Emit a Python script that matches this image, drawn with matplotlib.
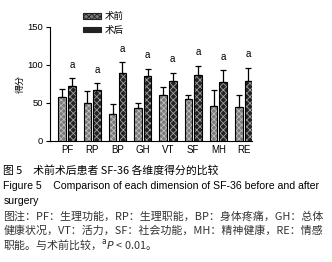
import numpy as np
import matplotlib.pyplot as plt
from matplotlib.patches import Patch

plt.rcParams['font.family'] = ['Liberation Sans', 'Noto Sans CJK SC', 'DejaVu Sans']
plt.rcParams['hatch.linewidth'] = 0.6

dims = ["PF", "RP", "BP", "GH", "VT", "SF", "MH", "RE"]
pre = [57.5, 50.5, 35, 43, 60, 55, 46, 45]
pre_err = [11.5, 15.5, 13, 7.5, 11, 5, 20.5, 15]
post = [72, 67.5, 89.5, 85, 78.5, 86.5, 77, 79.5]
post_err = [11, 8.5, 14.5, 10, 11.5, 12.5, 16.5, 17]
labels = ["术前", "术后"]

fig = plt.figure(figsize=(3.32, 2.62), dpi=100)
ax = fig.add_axes([0.151, 0.462, 0.608, 0.435])

x = np.arange(len(dims))
w = 0.3
off = 0.19

# hatched fill first, then black outline
ax.bar(x - off, pre, w, color="#7a7a7a", hatch="xxxxxx", edgecolor="#bdbdbd", linewidth=0)
ax.bar(x - off, pre, w, facecolor="none", edgecolor="black", linewidth=0.8)
ax.bar(x + off, post, w, color="#222222", hatch="xxxxx", edgecolor="#a0a0a0", linewidth=0)
ax.bar(x + off, post, w, facecolor="none", edgecolor="black", linewidth=0.8)

ax.errorbar(x - off, pre, yerr=[np.zeros(len(pre)), pre_err], fmt="none",
            ecolor="black", elinewidth=0.9, capsize=2.2, capthick=0.9)
ax.errorbar(x + off, post, yerr=[np.zeros(len(post)), post_err], fmt="none",
            ecolor="black", elinewidth=0.9, capsize=2.2, capthick=0.9)

for i in range(len(dims)):
    ax.text(x[i] + off, post[i] + post_err[i] + 11, "a", ha="center", va="bottom", fontsize=7)

ax.set_xlim(-0.67, 7.33)
ax.set_ylim(0, 150)
ax.set_yticks([0, 50, 100, 150])
ax.set_xticks(x)
ax.set_xticklabels(dims, fontsize=7)
ax.tick_params(axis="x", length=0, pad=3)
ax.tick_params(axis="y", labelsize=6.8, length=3, width=0.8, pad=2)
ax.spines["top"].set_visible(False)
ax.spines["right"].set_visible(False)
ax.spines["left"].set_linewidth(0.8)
ax.spines["bottom"].set_linewidth(0.8)
ax.set_ylabel("得分", fontsize=6.5, labelpad=2)

handles = [Patch(facecolor="#7a7a7a", hatch="xxxxxx", edgecolor="#222222", linewidth=0.8),
           Patch(facecolor="#222222", hatch="xxxxx", edgecolor="#222222", linewidth=0.8)]
fig.legend(handles, labels, loc="upper left", bbox_to_anchor=(0.225, 0.985), frameon=False,
           fontsize=6.8, handlelength=1.9, handleheight=0.55, handletextpad=0.4, labelspacing=0.45)

cn = "Noto Sans CJK SC"
fig.text(0.01, 1 - 170 / 262, "图 5　术前术后患者 SF-36 各维度得分的比较", fontsize=7.8,
         va="center", family=[cn, "DejaVu Sans"])
fig.text(0.01, 1 - 186 / 262, "Figure 5    Comparison of each dimension of SF-36 before and after",
         fontsize=7.6, va="center", family=["Liberation Sans"])
fig.text(0.01, 1 - 201 / 262, "surgery", fontsize=7.6, va="center", family=["Liberation Sans"])
fig.text(0.01, 1 - 216 / 262, "图注：PF：生理功能，RP：生理职能，BP：身体疼痛，GH：总体",
         fontsize=7.9, va="center", color="#333333", family=[cn, "DejaVu Sans"])
fig.text(0.01, 1 - 231 / 262, "健康状况，VT：活力，SF：社会功能，MH：精神健康，RE：情感",
         fontsize=7.9, va="center", color="#333333", family=[cn, "DejaVu Sans"])
fig.text(0.01, 1 - 245 / 262, r"职能。与术前比较，$^{\mathrm{a}}$$\it{P}$ < 0.01。",
         fontsize=7.9, va="center", color="#333333", family=[cn, "DejaVu Sans"])

fig.savefig("out.png", dpi=100)
